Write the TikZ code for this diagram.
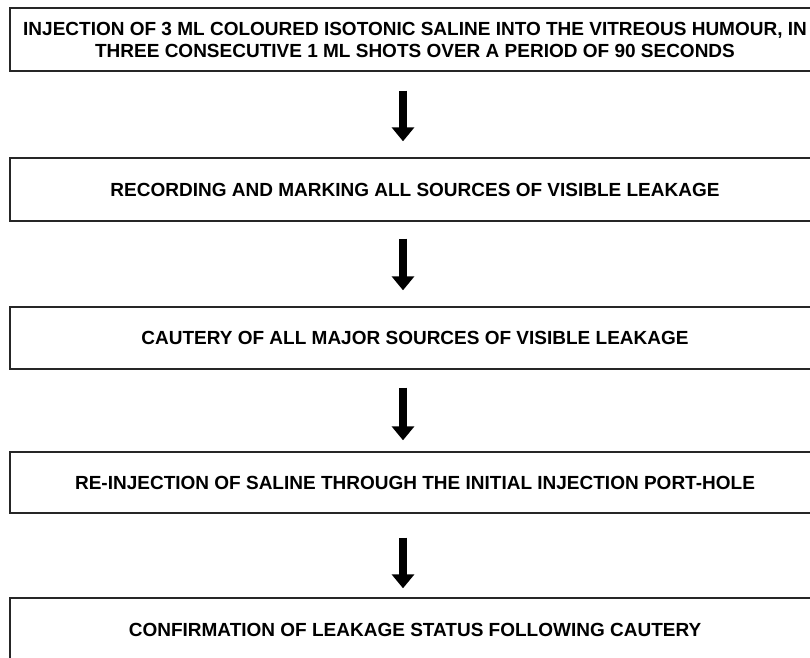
\documentclass[tikz,border=0pt]{standalone}
\usepackage{fontspec}
\setmainfont{Liberation Sans}
\usetikzlibrary{arrows.meta}
\begin{document}
\begin{tikzpicture}[x=1pt,y=-1pt,
  box/.style={draw=black!85, line width=1.4pt, minimum width=810pt, inner sep=0pt,
    font=\bfseries\fontsize{19}{22}\selectfont, align=center},
  flowarrow/.style={line width=8pt, -{Triangle[width=22pt,length=14pt]}}]
\useasboundingbox (0,0) rectangle (810,657);
\clip (0,0) rectangle (810,657);
\node[box, minimum height=63pt] (b1) at (415,39.5) {INJECTION OF 3 ML COLOURED ISOTONIC SALINE INTO THE VITREOUS HUMOUR, IN\\THREE CONSECUTIVE 1 ML SHOTS OVER A PERIOD OF 90 SECONDS};
\node[box, minimum height=63pt] (b2) at (415,189.5) {RECORDING AND MARKING ALL SOURCES OF VISIBLE LEAKAGE};
\node[box, minimum height=62pt] (b3) at (415,338) {CAUTERY OF ALL MAJOR SOURCES OF VISIBLE LEAKAGE};
\node[box, minimum height=61pt] (b4) at (415,482.5) {RE-INJECTION OF SALINE THROUGH THE INITIAL INJECTION PORT-HOLE};
\node[box, minimum height=63pt] (b5) at (415,629.5) {CONFIRMATION OF LEAKAGE STATUS FOLLOWING CAUTERY};
\coordinate (ax) at (403,0);
\draw[flowarrow, shorten <=19pt, shorten >=16pt] (b1.south -| ax) -- (b2.north -| ax);
\draw[flowarrow, shorten <=17pt, shorten >=16pt] (b2.south -| ax) -- (b3.north -| ax);
\draw[flowarrow, shorten <=18pt, shorten >=11pt] (b3.south -| ax) -- (b4.north -| ax);
\draw[flowarrow, shorten <=24pt, shorten >=9pt] (b4.south -| ax) -- (b5.north -| ax);
\end{tikzpicture}
\end{document}
